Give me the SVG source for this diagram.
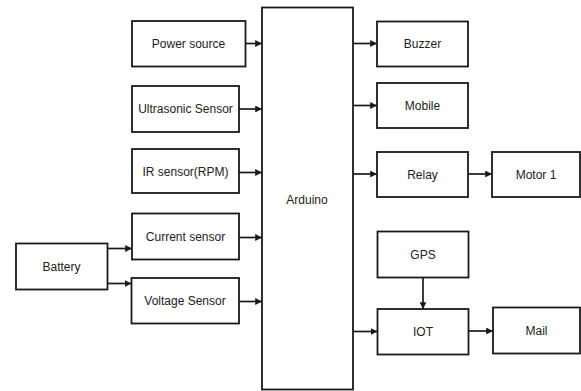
<svg xmlns="http://www.w3.org/2000/svg" width="581" height="391" viewBox="0 0 581 391">
<style>
.box{fill:#fff;stroke:#1a1a1a;stroke-width:1.8}
.lbl{font-family:"Liberation Sans",Arial,sans-serif;font-size:12px;fill:#222;text-anchor:middle;dominant-baseline:central}
.c{stroke:#1a1a1a;stroke-width:1.7;fill:none;marker-end:url(#ah)}
</style>
<defs>
<marker id="ah" viewBox="0 0 10 10" refX="10" refY="5" markerWidth="4" markerHeight="4" orient="auto" markerUnits="strokeWidth">
<path d="M0,0 L10,5 L0,10 z" fill="#1a1a1a"/>
</marker>
</defs>
<rect width="581" height="391" fill="#fff"/>
<g id="arduino"><rect class="box" x="262" y="7.5" width="91" height="382"/><text class="lbl" x="307" y="200">Arduino</text></g>
<g id="power"><rect class="box" x="132" y="21" width="113.5" height="45.5"/><text class="lbl" x="188.5" y="43.5">Power source</text></g>
<g id="ultrasonic"><rect class="box" x="132" y="86" width="107" height="46"/><text class="lbl" x="185.5" y="109">Ultrasonic Sensor</text></g>
<g id="ir"><rect class="box" x="132" y="149" width="107" height="44"/><text class="lbl" x="185.5" y="171.5">IR sensor(RPM)</text></g>
<g id="current"><rect class="box" x="132" y="213.5" width="107" height="46"/><text class="lbl" x="185.5" y="236.5">Current sensor</text></g>
<g id="voltage"><rect class="box" x="131.5" y="278" width="107.5" height="45.5"/><text class="lbl" x="185" y="300.5">Voltage Sensor</text></g>
<g id="battery"><rect class="box" x="16" y="243.5" width="91.5" height="46"/><text class="lbl" x="61.5" y="266.5">Battery</text></g>
<g id="buzzer"><rect class="box" x="377" y="21.5" width="91" height="45"/><text class="lbl" x="422.5" y="44">Buzzer</text></g>
<g id="mobile"><rect class="box" x="377" y="83" width="91" height="45"/><text class="lbl" x="422.5" y="105.5">Mobile</text></g>
<g id="relay"><rect class="box" x="377" y="152" width="91" height="45"/><text class="lbl" x="422.5" y="174.5">Relay</text></g>
<g id="motor1"><rect class="box" x="492" y="152" width="88" height="45"/><text class="lbl" x="536" y="174.5">Motor 1</text></g>
<g id="gps"><rect class="box" x="377.5" y="231.5" width="91" height="46"/><text class="lbl" x="423" y="254.5">GPS</text></g>
<g id="iot"><rect class="box" x="377.5" y="309" width="91" height="45.5"/><text class="lbl" x="423" y="331.5">IOT</text></g>
<g id="mail"><rect class="box" x="493" y="307.5" width="87" height="46"/><text class="lbl" x="536.5" y="330.5">Mail</text></g>
<g id="connectors">
<line class="c" x1="245.5" y1="43.5" x2="262" y2="43.5"/>
<line class="c" x1="239" y1="109" x2="262" y2="109"/>
<line class="c" x1="239" y1="172.5" x2="262" y2="172.5"/>
<line class="c" x1="239" y1="237.5" x2="262" y2="237.5"/>
<line class="c" x1="239" y1="301.5" x2="262" y2="301.5"/>
<line class="c" x1="107.5" y1="248.5" x2="132" y2="248.5"/>
<line class="c" x1="107.5" y1="283.5" x2="131.5" y2="283.5"/>
<line class="c" x1="353" y1="43.5" x2="377" y2="43.5"/>
<line class="c" x1="353" y1="105.5" x2="377" y2="105.5"/>
<line class="c" x1="353" y1="174" x2="377" y2="174"/>
<line class="c" x1="468" y1="174" x2="492" y2="174"/>
<line class="c" x1="423" y1="277.5" x2="423" y2="309"/>
<line class="c" x1="353" y1="331.5" x2="377.5" y2="331.5"/>
<line class="c" x1="468.5" y1="331" x2="493" y2="331"/>
</g>
</svg>
